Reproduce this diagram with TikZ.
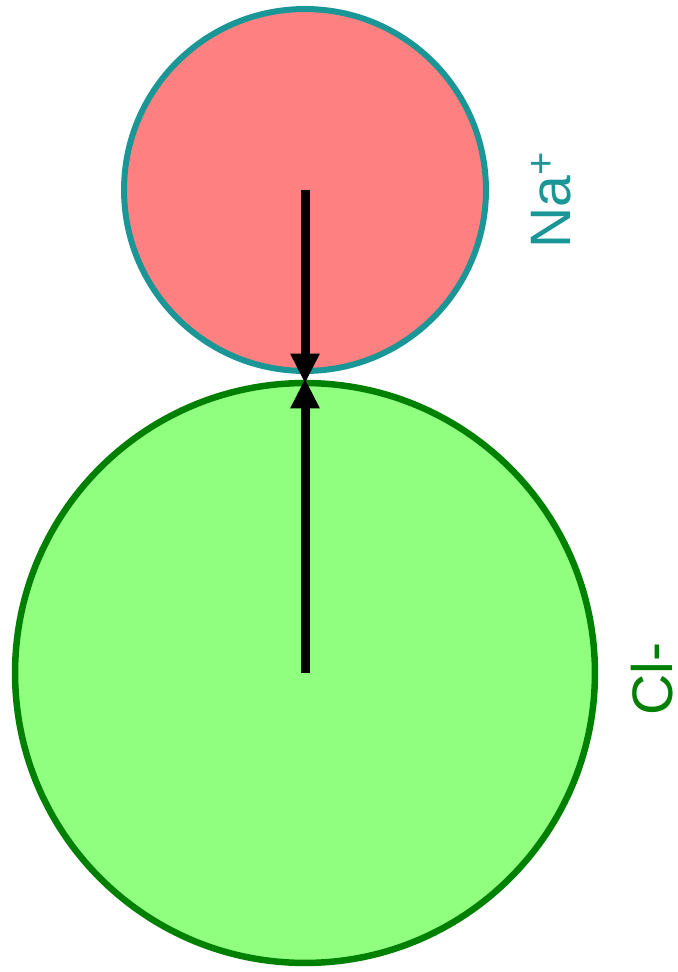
\documentclass[tikz,border=0pt]{standalone}
\usepackage{fontspec}
\setmainfont{Liberation Sans}
\usetikzlibrary{arrows.meta}
\definecolor{nafill}{RGB}{255,128,128}
\definecolor{naborder}{RGB}{26,150,150}
\definecolor{clfill}{RGB}{144,255,128}
\definecolor{clborder}{RGB}{0,128,0}

\begin{document}
\begin{tikzpicture}[
    x=0.02cm, y=-0.02cm,
    >={Triangle[length=0.6cm, width=0.55cm]},
    ion/.style={circle, inner sep=0pt},
    ionlabel/.style={rotate=90, inner sep=0pt, font=\fontsize{32.5}{36}\selectfont}
]

% Frame
\useasboundingbox (0,0) rectangle (677,972);

% Ions
\node[ion, fill=nafill, draw=naborder, line width=0.12cm, minimum size=7.24cm] (na) at (305,190) {};
\node[ion, fill=clfill, draw=clborder, line width=0.13cm, minimum size=11.6cm] (cl) at (305,673) {};

% Point of contact
\coordinate (touch) at (305,381);

% Radii
\draw[->, line width=0.18cm] (na.center) -- ([yshift=-0.05cm]touch);
\draw[->, line width=0.18cm] (cl.center) -- ([yshift=0.05cm]touch);

% Labels
\node[ionlabel, text=naborder] (nalabel) at (551,200) {Na\textsuperscript{+}};
\node[ionlabel, text=clborder] (cllabel) at (652,679) {Cl-};

\end{tikzpicture}
\end{document}
